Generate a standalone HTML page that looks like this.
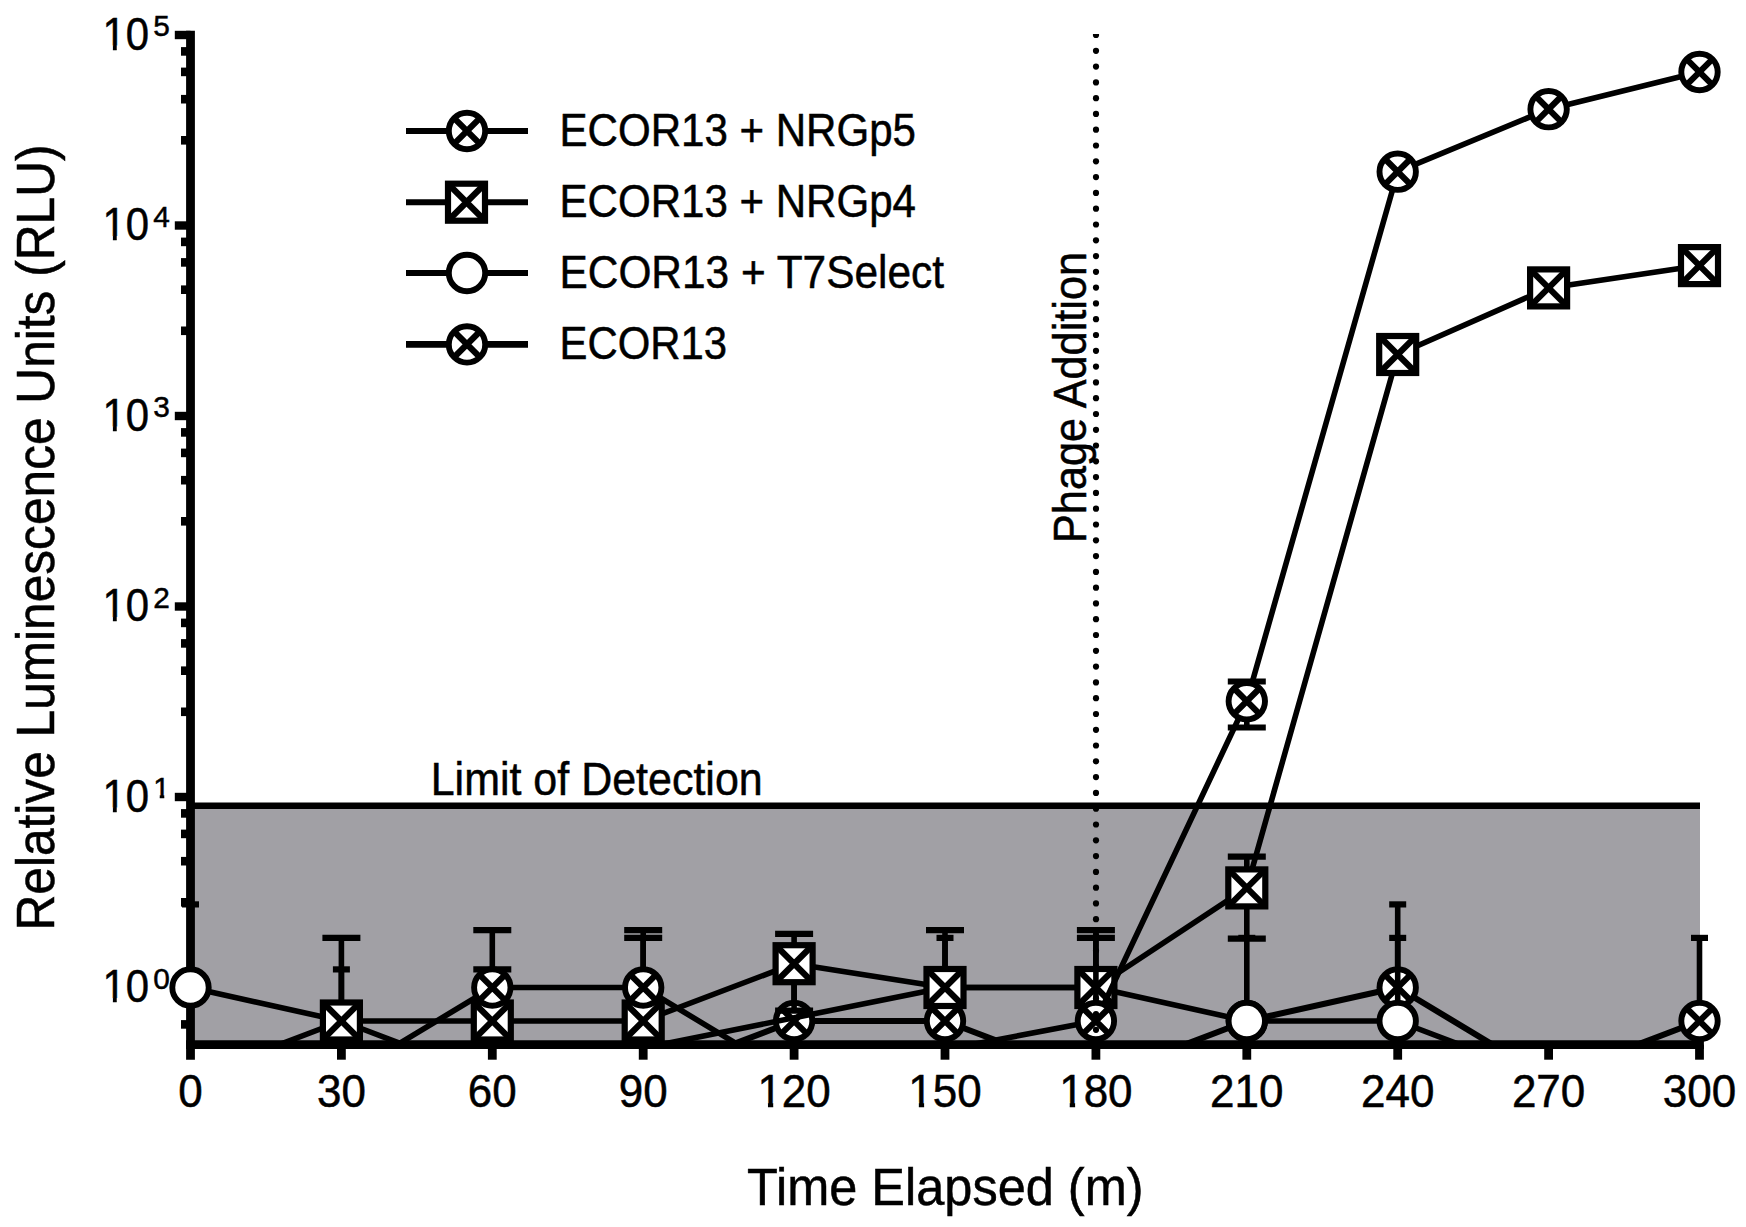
<!DOCTYPE html>
<html><head><meta charset="utf-8"><title>chart</title>
<style>html,body{margin:0;padding:0;background:#fff}svg{display:block}</style></head>
<body><svg width="1746" height="1227" viewBox="0 0 1746 1227">
<rect width="1746" height="1227" fill="#fff"/>
<rect x="190.5" y="805.5" width="1509.5" height="239.20000000000005" fill="#a1a0a5"/>
<line x1="190.5" y1="805.8" x2="1700" y2="805.8" stroke="#000" stroke-width="6.4"/>
<line x1="190.5" y1="30.8" x2="190.5" y2="1059.7" stroke="#000" stroke-width="8.8"/>
<line x1="186.1" y1="1044.7" x2="1703.9" y2="1044.7" stroke="#000" stroke-width="8.8"/>
<line x1="341.4" y1="1044.7" x2="341.4" y2="1059.7" stroke="#000" stroke-width="8.8"/>
<line x1="492.3" y1="1044.7" x2="492.3" y2="1059.7" stroke="#000" stroke-width="8.8"/>
<line x1="643.2" y1="1044.7" x2="643.2" y2="1059.7" stroke="#000" stroke-width="8.8"/>
<line x1="794.1" y1="1044.7" x2="794.1" y2="1059.7" stroke="#000" stroke-width="8.8"/>
<line x1="945.0" y1="1044.7" x2="945.0" y2="1059.7" stroke="#000" stroke-width="8.8"/>
<line x1="1095.9" y1="1044.7" x2="1095.9" y2="1059.7" stroke="#000" stroke-width="8.8"/>
<line x1="1246.8" y1="1044.7" x2="1246.8" y2="1059.7" stroke="#000" stroke-width="8.8"/>
<line x1="1397.7" y1="1044.7" x2="1397.7" y2="1059.7" stroke="#000" stroke-width="8.8"/>
<line x1="1548.6" y1="1044.7" x2="1548.6" y2="1059.7" stroke="#000" stroke-width="8.8"/>
<line x1="1699.5" y1="1044.7" x2="1699.5" y2="1059.7" stroke="#000" stroke-width="8.8"/>
<line x1="174.8" y1="987.5" x2="190.5" y2="987.5" stroke="#000" stroke-width="8.4"/>
<line x1="174.8" y1="797.0" x2="190.5" y2="797.0" stroke="#000" stroke-width="8.4"/>
<line x1="174.8" y1="606.5" x2="190.5" y2="606.5" stroke="#000" stroke-width="8.4"/>
<line x1="174.8" y1="416.0" x2="190.5" y2="416.0" stroke="#000" stroke-width="8.4"/>
<line x1="174.8" y1="225.5" x2="190.5" y2="225.5" stroke="#000" stroke-width="8.4"/>
<line x1="174.8" y1="35.0" x2="190.5" y2="35.0" stroke="#000" stroke-width="8.4"/>
<line x1="181" y1="1024.4" x2="190.5" y2="1024.4" stroke="#000" stroke-width="8.6"/>
<line x1="181" y1="902.3" x2="190.5" y2="902.3" stroke="#000" stroke-width="8.6"/>
<line x1="181" y1="861.2" x2="190.5" y2="861.2" stroke="#000" stroke-width="8.6"/>
<line x1="181" y1="833.9" x2="190.5" y2="833.9" stroke="#000" stroke-width="8.6"/>
<line x1="181" y1="813.4" x2="190.5" y2="813.4" stroke="#000" stroke-width="8.6"/>
<line x1="181" y1="711.8" x2="190.5" y2="711.8" stroke="#000" stroke-width="8.6"/>
<line x1="181" y1="670.7" x2="190.5" y2="670.7" stroke="#000" stroke-width="8.6"/>
<line x1="181" y1="643.4" x2="190.5" y2="643.4" stroke="#000" stroke-width="8.6"/>
<line x1="181" y1="622.9" x2="190.5" y2="622.9" stroke="#000" stroke-width="8.6"/>
<line x1="181" y1="521.3" x2="190.5" y2="521.3" stroke="#000" stroke-width="8.6"/>
<line x1="181" y1="480.2" x2="190.5" y2="480.2" stroke="#000" stroke-width="8.6"/>
<line x1="181" y1="452.9" x2="190.5" y2="452.9" stroke="#000" stroke-width="8.6"/>
<line x1="181" y1="432.4" x2="190.5" y2="432.4" stroke="#000" stroke-width="8.6"/>
<line x1="181" y1="330.8" x2="190.5" y2="330.8" stroke="#000" stroke-width="8.6"/>
<line x1="181" y1="289.7" x2="190.5" y2="289.7" stroke="#000" stroke-width="8.6"/>
<line x1="181" y1="262.4" x2="190.5" y2="262.4" stroke="#000" stroke-width="8.6"/>
<line x1="181" y1="241.9" x2="190.5" y2="241.9" stroke="#000" stroke-width="8.6"/>
<line x1="181" y1="140.3" x2="190.5" y2="140.3" stroke="#000" stroke-width="8.6"/>
<line x1="181" y1="99.2" x2="190.5" y2="99.2" stroke="#000" stroke-width="8.6"/>
<line x1="181" y1="71.9" x2="190.5" y2="71.9" stroke="#000" stroke-width="8.6"/>
<line x1="181" y1="51.4" x2="190.5" y2="51.4" stroke="#000" stroke-width="8.6"/>
<clipPath id="cy0"><path clip-rule="evenodd" d="M90 947.5h90v80h-90zM102 998.1h10.9v6h-10.9zM116.7 998.1h10v6h-10z"/></clipPath>
<text x="102.4" y="1002.2" font-family="Liberation Sans, Arial, Helvetica, sans-serif" stroke="#000" stroke-width="0.5" font-size="45.8" textLength="46.6" lengthAdjust="spacingAndGlyphs" clip-path="url(#cy0)">10</text>
<text x="153.3" y="988.7" font-family="Liberation Sans, Arial, Helvetica, sans-serif" stroke="#000" stroke-width="0.5" font-size="30.4" textLength="16.6" lengthAdjust="spacingAndGlyphs">0</text>
<clipPath id="cy1"><path clip-rule="evenodd" d="M90 757.0h90v80h-90zM102 807.6h10.9v6h-10.9zM116.7 807.6h10v6h-10z"/></clipPath>
<text x="102.4" y="811.7" font-family="Liberation Sans, Arial, Helvetica, sans-serif" stroke="#000" stroke-width="0.5" font-size="45.8" textLength="46.6" lengthAdjust="spacingAndGlyphs" clip-path="url(#cy1)">10</text>
<clipPath id="cs1"><path clip-rule="evenodd" d="M150 757.0h30v80h-30zM153 794.4h6.75v5h-6.75zM164.25 794.4h6v5h-6z"/></clipPath>
<text x="153.3" y="798.2" font-family="Liberation Sans, Arial, Helvetica, sans-serif" stroke="#000" stroke-width="0.5" font-size="30.4" textLength="16.6" lengthAdjust="spacingAndGlyphs" clip-path="url(#cs1)">1</text>
<clipPath id="cy2"><path clip-rule="evenodd" d="M90 566.5h90v80h-90zM102 617.1h10.9v6h-10.9zM116.7 617.1h10v6h-10z"/></clipPath>
<text x="102.4" y="621.2" font-family="Liberation Sans, Arial, Helvetica, sans-serif" stroke="#000" stroke-width="0.5" font-size="45.8" textLength="46.6" lengthAdjust="spacingAndGlyphs" clip-path="url(#cy2)">10</text>
<text x="153.3" y="607.7" font-family="Liberation Sans, Arial, Helvetica, sans-serif" stroke="#000" stroke-width="0.5" font-size="30.4" textLength="16.6" lengthAdjust="spacingAndGlyphs">2</text>
<clipPath id="cy3"><path clip-rule="evenodd" d="M90 376.0h90v80h-90zM102 426.6h10.9v6h-10.9zM116.7 426.6h10v6h-10z"/></clipPath>
<text x="102.4" y="430.7" font-family="Liberation Sans, Arial, Helvetica, sans-serif" stroke="#000" stroke-width="0.5" font-size="45.8" textLength="46.6" lengthAdjust="spacingAndGlyphs" clip-path="url(#cy3)">10</text>
<text x="153.3" y="417.2" font-family="Liberation Sans, Arial, Helvetica, sans-serif" stroke="#000" stroke-width="0.5" font-size="30.4" textLength="16.6" lengthAdjust="spacingAndGlyphs">3</text>
<clipPath id="cy4"><path clip-rule="evenodd" d="M90 185.5h90v80h-90zM102 236.1h10.9v6h-10.9zM116.7 236.1h10v6h-10z"/></clipPath>
<text x="102.4" y="240.2" font-family="Liberation Sans, Arial, Helvetica, sans-serif" stroke="#000" stroke-width="0.5" font-size="45.8" textLength="46.6" lengthAdjust="spacingAndGlyphs" clip-path="url(#cy4)">10</text>
<text x="153.3" y="226.7" font-family="Liberation Sans, Arial, Helvetica, sans-serif" stroke="#000" stroke-width="0.5" font-size="30.4" textLength="16.6" lengthAdjust="spacingAndGlyphs">4</text>
<clipPath id="cy5"><path clip-rule="evenodd" d="M90 -5.0h90v80h-90zM102 45.6h10.9v6h-10.9zM116.7 45.6h10v6h-10z"/></clipPath>
<text x="102.4" y="49.7" font-family="Liberation Sans, Arial, Helvetica, sans-serif" stroke="#000" stroke-width="0.5" font-size="45.8" textLength="46.6" lengthAdjust="spacingAndGlyphs" clip-path="url(#cy5)">10</text>
<text x="153.3" y="36.2" font-family="Liberation Sans, Arial, Helvetica, sans-serif" stroke="#000" stroke-width="0.5" font-size="30.4" textLength="16.6" lengthAdjust="spacingAndGlyphs">5</text>
<text x="190.5" y="1107" text-anchor="middle" font-family="Liberation Sans, Arial, Helvetica, sans-serif" stroke="#000" stroke-width="0.5" font-size="45.6" textLength="24.5" lengthAdjust="spacingAndGlyphs">0</text>
<text x="341.4" y="1107" text-anchor="middle" font-family="Liberation Sans, Arial, Helvetica, sans-serif" stroke="#000" stroke-width="0.5" font-size="45.6" textLength="48.9" lengthAdjust="spacingAndGlyphs">30</text>
<text x="492.3" y="1107" text-anchor="middle" font-family="Liberation Sans, Arial, Helvetica, sans-serif" stroke="#000" stroke-width="0.5" font-size="45.6" textLength="48.9" lengthAdjust="spacingAndGlyphs">60</text>
<text x="643.2" y="1107" text-anchor="middle" font-family="Liberation Sans, Arial, Helvetica, sans-serif" stroke="#000" stroke-width="0.5" font-size="45.6" textLength="48.9" lengthAdjust="spacingAndGlyphs">90</text>
<clipPath id="cx120"><path clip-rule="evenodd" d="M734.1 1060h120v60h-120zM758.1 1102.4h9.85v6h-9.85zM773.2 1102.4h8.6v6h-8.6z"/></clipPath>
<text x="794.1" y="1107" text-anchor="middle" font-family="Liberation Sans, Arial, Helvetica, sans-serif" stroke="#000" stroke-width="0.5" font-size="45.6" textLength="73.4" lengthAdjust="spacingAndGlyphs" clip-path="url(#cx120)">120</text>
<clipPath id="cx150"><path clip-rule="evenodd" d="M885.0 1060h120v60h-120zM909.0 1102.4h9.85v6h-9.85zM924.1 1102.4h8.6v6h-8.6z"/></clipPath>
<text x="945.0" y="1107" text-anchor="middle" font-family="Liberation Sans, Arial, Helvetica, sans-serif" stroke="#000" stroke-width="0.5" font-size="45.6" textLength="73.4" lengthAdjust="spacingAndGlyphs" clip-path="url(#cx150)">150</text>
<clipPath id="cx180"><path clip-rule="evenodd" d="M1035.9 1060h120v60h-120zM1059.9 1102.4h9.85v6h-9.85zM1075.1 1102.4h8.6v6h-8.6z"/></clipPath>
<text x="1095.9" y="1107" text-anchor="middle" font-family="Liberation Sans, Arial, Helvetica, sans-serif" stroke="#000" stroke-width="0.5" font-size="45.6" textLength="73.4" lengthAdjust="spacingAndGlyphs" clip-path="url(#cx180)">180</text>
<text x="1246.8" y="1107" text-anchor="middle" font-family="Liberation Sans, Arial, Helvetica, sans-serif" stroke="#000" stroke-width="0.5" font-size="45.6" textLength="73.4" lengthAdjust="spacingAndGlyphs">210</text>
<text x="1397.7" y="1107" text-anchor="middle" font-family="Liberation Sans, Arial, Helvetica, sans-serif" stroke="#000" stroke-width="0.5" font-size="45.6" textLength="73.4" lengthAdjust="spacingAndGlyphs">240</text>
<text x="1548.6" y="1107" text-anchor="middle" font-family="Liberation Sans, Arial, Helvetica, sans-serif" stroke="#000" stroke-width="0.5" font-size="45.6" textLength="73.4" lengthAdjust="spacingAndGlyphs">270</text>
<text x="1699.5" y="1107" text-anchor="middle" font-family="Liberation Sans, Arial, Helvetica, sans-serif" stroke="#000" stroke-width="0.5" font-size="45.6" textLength="73.4" lengthAdjust="spacingAndGlyphs">300</text>
<text x="747" y="1204.8" font-family="Liberation Sans, Arial, Helvetica, sans-serif" stroke="#000" stroke-width="0.5" font-size="52.4" textLength="396.5" lengthAdjust="spacingAndGlyphs">Time Elapsed (m)</text>
<text transform="translate(54.2,930.5) rotate(-90)" font-family="Liberation Sans, Arial, Helvetica, sans-serif" stroke="#000" stroke-width="0.5" font-size="53" textLength="786" lengthAdjust="spacingAndGlyphs">Relative Luminescence Units (RLU)</text>
<text x="430.7" y="795" font-family="Liberation Sans, Arial, Helvetica, sans-serif" stroke="#000" stroke-width="0.5" font-size="45.6" textLength="332" lengthAdjust="spacingAndGlyphs">Limit of Detection</text>
<text transform="translate(1086.1,543) rotate(-90)" font-family="Liberation Sans, Arial, Helvetica, sans-serif" stroke="#000" stroke-width="0.5" font-size="45.6" textLength="291" lengthAdjust="spacingAndGlyphs">Phage Addition</text>
<clipPath id="plotclip"><rect x="0" y="0" width="1746" height="1044.7"/></clipPath>
<line x1="794.1" y1="1021.0" x2="794.1" y2="969.4" stroke="#000" stroke-width="5.6"/>
<line x1="785.6" y1="969.4" x2="802.6" y2="969.4" stroke="#000" stroke-width="6.2"/>
<line x1="945.0" y1="1021.0" x2="945.0" y2="937.9" stroke="#000" stroke-width="5.6"/>
<line x1="936.5" y1="937.9" x2="953.5" y2="937.9" stroke="#000" stroke-width="6.2"/>
<line x1="1397.7" y1="987.5" x2="1397.7" y2="904.4" stroke="#000" stroke-width="5.6"/>
<line x1="1389.2" y1="904.4" x2="1406.2" y2="904.4" stroke="#000" stroke-width="6.2"/>
<line x1="1699.5" y1="1021.0" x2="1699.5" y2="937.9" stroke="#000" stroke-width="5.6"/>
<line x1="1691.0" y1="937.9" x2="1708.0" y2="937.9" stroke="#000" stroke-width="6.2"/>
<path d="M643.2 1078.4L794.1 1021.0L945.0 1021.0L1095.9 1078.4L1246.8 1021.0L1397.7 987.5L1548.6 1078.4L1699.5 1021.0" fill="none" stroke="#000" stroke-width="6.1" stroke-linejoin="round" clip-path="url(#plotclip)"/>
<circle cx="794.1" cy="1021.0" r="18.2" fill="#fff" stroke="#000" stroke-width="5.9"/><path d="M781.2 1008.2L807.0 1033.9M781.2 1033.9L807.0 1008.2" stroke="#000" stroke-width="6.2" fill="none"/>
<circle cx="945.0" cy="1021.0" r="18.2" fill="#fff" stroke="#000" stroke-width="5.9"/><path d="M932.1 1008.2L957.9 1033.9M932.1 1033.9L957.9 1008.2" stroke="#000" stroke-width="6.2" fill="none"/>
<circle cx="1246.8" cy="1021.0" r="18.2" fill="#fff" stroke="#000" stroke-width="5.9"/><path d="M1233.9 1008.2L1259.7 1033.9M1233.9 1033.9L1259.7 1008.2" stroke="#000" stroke-width="6.2" fill="none"/>
<circle cx="1397.7" cy="987.5" r="18.2" fill="#fff" stroke="#000" stroke-width="5.9"/><path d="M1384.8 974.6L1410.6 1000.4M1384.8 1000.4L1410.6 974.6" stroke="#000" stroke-width="6.2" fill="none"/>
<circle cx="1699.5" cy="1021.0" r="18.2" fill="#fff" stroke="#000" stroke-width="5.9"/><path d="M1686.6 1008.2L1712.4 1033.9M1686.6 1033.9L1712.4 1008.2" stroke="#000" stroke-width="6.2" fill="none"/>
<line x1="190.5" y1="987.5" x2="190.5" y2="904.4" stroke="#000" stroke-width="5.6"/>
<line x1="182.0" y1="904.4" x2="199.0" y2="904.4" stroke="#000" stroke-width="6.2"/>
<line x1="341.4" y1="1021.0" x2="341.4" y2="969.4" stroke="#000" stroke-width="5.6"/>
<line x1="332.9" y1="969.4" x2="349.9" y2="969.4" stroke="#000" stroke-width="6.2"/>
<line x1="1246.8" y1="1021.0" x2="1246.8" y2="937.9" stroke="#000" stroke-width="5.6"/>
<line x1="1238.3" y1="937.9" x2="1255.3" y2="937.9" stroke="#000" stroke-width="6.2"/>
<line x1="1397.7" y1="1021.0" x2="1397.7" y2="937.9" stroke="#000" stroke-width="5.6"/>
<line x1="1389.2" y1="937.9" x2="1406.2" y2="937.9" stroke="#000" stroke-width="6.2"/>
<path d="M190.5 987.5L341.4 1021.0L492.3 1078.4L945.0 987.5L1095.9 987.5L1246.8 1021.0L1397.7 1021.0L1548.6 1078.4" fill="none" stroke="#000" stroke-width="5.6" stroke-linejoin="round" clip-path="url(#plotclip)"/>
<circle cx="190.5" cy="987.5" r="18.2" fill="#fff" stroke="#000" stroke-width="5.9"/>
<circle cx="341.4" cy="1021.0" r="18.2" fill="#fff" stroke="#000" stroke-width="5.9"/>
<circle cx="945.0" cy="987.5" r="18.2" fill="#fff" stroke="#000" stroke-width="5.9"/>
<circle cx="1095.9" cy="987.5" r="18.2" fill="#fff" stroke="#000" stroke-width="5.9"/>
<circle cx="1246.8" cy="1021.0" r="18.2" fill="#fff" stroke="#000" stroke-width="5.9"/>
<circle cx="1397.7" cy="1021.0" r="18.2" fill="#fff" stroke="#000" stroke-width="5.9"/>
<line x1="341.4" y1="1021.0" x2="341.4" y2="937.9" stroke="#000" stroke-width="5.6"/>
<line x1="322.4" y1="937.9" x2="360.4" y2="937.9" stroke="#000" stroke-width="6.2"/>
<line x1="492.3" y1="1021.0" x2="492.3" y2="969.4" stroke="#000" stroke-width="5.6"/>
<line x1="473.3" y1="969.4" x2="511.3" y2="969.4" stroke="#000" stroke-width="6.2"/>
<line x1="643.2" y1="1021.0" x2="643.2" y2="937.9" stroke="#000" stroke-width="5.6"/>
<line x1="624.2" y1="937.9" x2="662.2" y2="937.9" stroke="#000" stroke-width="6.2"/>
<line x1="794.1" y1="963.7" x2="794.1" y2="933.9" stroke="#000" stroke-width="5.6"/>
<line x1="775.1" y1="933.9" x2="813.1" y2="933.9" stroke="#000" stroke-width="6.2"/>
<line x1="794.1" y1="963.7" x2="794.1" y2="1010.6" stroke="#000" stroke-width="5.6"/>
<line x1="775.1" y1="1010.6" x2="813.1" y2="1010.6" stroke="#000" stroke-width="6.2"/>
<line x1="945.0" y1="987.5" x2="945.0" y2="930.2" stroke="#000" stroke-width="5.6"/>
<line x1="926.0" y1="930.2" x2="964.0" y2="930.2" stroke="#000" stroke-width="6.2"/>
<line x1="1095.9" y1="987.5" x2="1095.9" y2="930.2" stroke="#000" stroke-width="5.6"/>
<line x1="1076.9" y1="930.2" x2="1114.9" y2="930.2" stroke="#000" stroke-width="6.2"/>
<line x1="1246.8" y1="887.9" x2="1246.8" y2="856.7" stroke="#000" stroke-width="5.6"/>
<line x1="1227.8" y1="856.7" x2="1265.8" y2="856.7" stroke="#000" stroke-width="6.2"/>
<line x1="1246.8" y1="887.9" x2="1246.8" y2="938.6" stroke="#000" stroke-width="5.6"/>
<line x1="1227.8" y1="938.6" x2="1265.8" y2="938.6" stroke="#000" stroke-width="6.2"/>
<path d="M190.5 1078.4L341.4 1021.0L492.3 1021.0L643.2 1021.0L794.1 963.7L945.0 987.5L1095.9 987.5L1246.8 887.9L1397.7 354.5L1548.6 287.9L1699.5 265.6" fill="none" stroke="#000" stroke-width="5.6" stroke-linejoin="round" clip-path="url(#plotclip)"/>
<rect x="322.9" y="1002.5" width="37.0" height="37.0" fill="#fff" stroke="#000" stroke-width="6.2"/><path d="M322.9 1002.5L359.9 1039.5M322.9 1039.5L359.9 1002.5" stroke="#000" stroke-width="6.2" fill="none"/>
<rect x="473.8" y="1002.5" width="37.0" height="37.0" fill="#fff" stroke="#000" stroke-width="6.2"/><path d="M473.8 1002.5L510.8 1039.5M473.8 1039.5L510.8 1002.5" stroke="#000" stroke-width="6.2" fill="none"/>
<rect x="624.7" y="1002.5" width="37.0" height="37.0" fill="#fff" stroke="#000" stroke-width="6.2"/><path d="M624.7 1002.5L661.7 1039.5M624.7 1039.5L661.7 1002.5" stroke="#000" stroke-width="6.2" fill="none"/>
<rect x="775.6" y="945.2" width="37.0" height="37.0" fill="#fff" stroke="#000" stroke-width="6.2"/><path d="M775.6 945.2L812.6 982.2M775.6 982.2L812.6 945.2" stroke="#000" stroke-width="6.2" fill="none"/>
<rect x="926.5" y="969.0" width="37.0" height="37.0" fill="#fff" stroke="#000" stroke-width="6.2"/><path d="M926.5 969.0L963.5 1006.0M926.5 1006.0L963.5 969.0" stroke="#000" stroke-width="6.2" fill="none"/>
<rect x="1077.4" y="969.0" width="37.0" height="37.0" fill="#fff" stroke="#000" stroke-width="6.2"/><path d="M1077.4 969.0L1114.4 1006.0M1077.4 1006.0L1114.4 969.0" stroke="#000" stroke-width="6.2" fill="none"/>
<rect x="1228.3" y="869.4" width="37.0" height="37.0" fill="#fff" stroke="#000" stroke-width="6.2"/><path d="M1228.3 869.4L1265.3 906.4M1228.3 906.4L1265.3 869.4" stroke="#000" stroke-width="6.2" fill="none"/>
<rect x="1379.2" y="336.0" width="37.0" height="37.0" fill="#fff" stroke="#000" stroke-width="6.2"/><path d="M1379.2 336.0L1416.2 373.0M1379.2 373.0L1416.2 336.0" stroke="#000" stroke-width="6.2" fill="none"/>
<rect x="1530.1" y="269.4" width="37.0" height="37.0" fill="#fff" stroke="#000" stroke-width="6.2"/><path d="M1530.1 269.4L1567.1 306.4M1530.1 306.4L1567.1 269.4" stroke="#000" stroke-width="6.2" fill="none"/>
<rect x="1681.0" y="247.1" width="37.0" height="37.0" fill="#fff" stroke="#000" stroke-width="6.2"/><path d="M1681.0 247.1L1718.0 284.1M1681.0 284.1L1718.0 247.1" stroke="#000" stroke-width="6.2" fill="none"/>
<line x1="492.3" y1="987.5" x2="492.3" y2="930.2" stroke="#000" stroke-width="5.6"/>
<line x1="473.3" y1="930.2" x2="511.3" y2="930.2" stroke="#000" stroke-width="6.2"/>
<line x1="643.2" y1="987.5" x2="643.2" y2="930.2" stroke="#000" stroke-width="5.6"/>
<line x1="624.2" y1="930.2" x2="662.2" y2="930.2" stroke="#000" stroke-width="6.2"/>
<line x1="1095.9" y1="1021.0" x2="1095.9" y2="937.9" stroke="#000" stroke-width="5.6"/>
<line x1="1076.9" y1="937.9" x2="1114.9" y2="937.9" stroke="#000" stroke-width="6.2"/>
<line x1="1246.8" y1="701.2" x2="1246.8" y2="681.5" stroke="#000" stroke-width="5.6"/>
<line x1="1227.8" y1="681.5" x2="1265.8" y2="681.5" stroke="#000" stroke-width="6.2"/>
<line x1="1246.8" y1="701.2" x2="1246.8" y2="727.5" stroke="#000" stroke-width="5.6"/>
<line x1="1227.8" y1="727.5" x2="1265.8" y2="727.5" stroke="#000" stroke-width="6.2"/>
<path d="M341.4 1078.4L492.3 987.5L643.2 987.5L794.1 1078.4L1095.9 1021.0L1246.8 701.2L1397.7 171.7L1548.6 109.2L1699.5 72.0" fill="none" stroke="#000" stroke-width="5.6" stroke-linejoin="round" clip-path="url(#plotclip)"/>
<circle cx="492.3" cy="987.5" r="18.2" fill="#fff" stroke="#000" stroke-width="5.9"/><path d="M479.4 974.6L505.2 1000.4M479.4 1000.4L505.2 974.6" stroke="#000" stroke-width="6.2" fill="none"/>
<circle cx="643.2" cy="987.5" r="18.2" fill="#fff" stroke="#000" stroke-width="5.9"/><path d="M630.3 974.6L656.1 1000.4M630.3 1000.4L656.1 974.6" stroke="#000" stroke-width="6.2" fill="none"/>
<circle cx="1095.9" cy="1021.0" r="18.2" fill="#fff" stroke="#000" stroke-width="5.9"/><path d="M1083.0 1008.2L1108.8 1033.9M1083.0 1033.9L1108.8 1008.2" stroke="#000" stroke-width="6.2" fill="none"/>
<circle cx="1246.8" cy="701.2" r="18.2" fill="#fff" stroke="#000" stroke-width="5.9"/><path d="M1233.9 688.3L1259.7 714.1M1233.9 714.1L1259.7 688.3" stroke="#000" stroke-width="6.2" fill="none"/>
<circle cx="1397.7" cy="171.7" r="18.2" fill="#fff" stroke="#000" stroke-width="5.9"/><path d="M1384.8 158.8L1410.6 184.6M1384.8 184.6L1410.6 158.8" stroke="#000" stroke-width="6.2" fill="none"/>
<circle cx="1548.6" cy="109.2" r="18.2" fill="#fff" stroke="#000" stroke-width="5.9"/><path d="M1535.7 96.3L1561.5 122.1M1535.7 122.1L1561.5 96.3" stroke="#000" stroke-width="6.2" fill="none"/>
<circle cx="1699.5" cy="72.0" r="18.2" fill="#fff" stroke="#000" stroke-width="5.9"/><path d="M1686.6 59.1L1712.4 84.9M1686.6 84.9L1712.4 59.1" stroke="#000" stroke-width="6.2" fill="none"/>
<clipPath id="dotclip"><rect x="1000" y="33.9" width="200" height="1100"/></clipPath>
<g fill="#000" clip-path="url(#dotclip)"><circle cx="1096.0" cy="35.0" r="3.1"/><circle cx="1096.0" cy="50.8" r="3.1"/><circle cx="1096.0" cy="66.6" r="3.1"/><circle cx="1096.0" cy="82.4" r="3.1"/><circle cx="1096.0" cy="98.2" r="3.1"/><circle cx="1096.0" cy="113.9" r="3.1"/><circle cx="1096.0" cy="129.7" r="3.1"/><circle cx="1096.0" cy="145.5" r="3.1"/><circle cx="1096.0" cy="161.3" r="3.1"/><circle cx="1096.0" cy="177.1" r="3.1"/><circle cx="1096.0" cy="192.9" r="3.1"/><circle cx="1096.0" cy="208.7" r="3.1"/><circle cx="1096.0" cy="224.5" r="3.1"/><circle cx="1096.0" cy="240.3" r="3.1"/><circle cx="1096.0" cy="256.1" r="3.1"/><circle cx="1096.0" cy="271.8" r="3.1"/><circle cx="1096.0" cy="287.6" r="3.1"/><circle cx="1096.0" cy="303.4" r="3.1"/><circle cx="1096.0" cy="319.2" r="3.1"/><circle cx="1096.0" cy="335.0" r="3.1"/><circle cx="1096.0" cy="350.8" r="3.1"/><circle cx="1096.0" cy="366.6" r="3.1"/><circle cx="1096.0" cy="382.4" r="3.1"/><circle cx="1096.0" cy="398.2" r="3.1"/><circle cx="1096.0" cy="414.0" r="3.1"/><circle cx="1096.0" cy="429.8" r="3.1"/><circle cx="1096.0" cy="445.5" r="3.1"/><circle cx="1096.0" cy="461.3" r="3.1"/><circle cx="1096.0" cy="477.1" r="3.1"/><circle cx="1096.0" cy="492.9" r="3.1"/><circle cx="1096.0" cy="508.7" r="3.1"/><circle cx="1096.0" cy="524.5" r="3.1"/><circle cx="1096.0" cy="540.3" r="3.1"/><circle cx="1096.0" cy="556.1" r="3.1"/><circle cx="1096.0" cy="571.9" r="3.1"/><circle cx="1096.0" cy="587.7" r="3.1"/><circle cx="1096.0" cy="603.4" r="3.1"/><circle cx="1096.0" cy="619.2" r="3.1"/><circle cx="1096.0" cy="635.0" r="3.1"/><circle cx="1096.0" cy="650.8" r="3.1"/><circle cx="1096.0" cy="666.6" r="3.1"/><circle cx="1096.0" cy="682.4" r="3.1"/><circle cx="1096.0" cy="698.2" r="3.1"/><circle cx="1096.0" cy="714.0" r="3.1"/><circle cx="1096.0" cy="729.8" r="3.1"/><circle cx="1096.0" cy="745.5" r="3.1"/><circle cx="1096.0" cy="761.3" r="3.1"/><circle cx="1096.0" cy="777.1" r="3.1"/><circle cx="1096.0" cy="792.9" r="3.1"/><circle cx="1096.0" cy="808.7" r="3.1"/><circle cx="1096.0" cy="824.5" r="3.1"/><circle cx="1096.0" cy="840.3" r="3.1"/><circle cx="1096.0" cy="856.1" r="3.1"/><circle cx="1096.0" cy="871.9" r="3.1"/><circle cx="1096.0" cy="887.7" r="3.1"/><circle cx="1096.0" cy="903.4" r="3.1"/><circle cx="1096.0" cy="919.2" r="3.1"/><circle cx="1096.0" cy="935.0" r="3.1"/><circle cx="1096.0" cy="950.8" r="3.1"/><circle cx="1096.0" cy="966.6" r="3.1"/><circle cx="1096.0" cy="982.4" r="3.1"/><circle cx="1096.0" cy="998.2" r="3.1"/><circle cx="1096.0" cy="1014.0" r="3.1"/><circle cx="1096.0" cy="1029.8" r="3.1"/></g>
<line x1="406" y1="131" x2="528" y2="131" stroke="#000" stroke-width="6"/>
<circle cx="467.0" cy="131.0" r="18.2" fill="#fff" stroke="#000" stroke-width="5.9"/><path d="M454.1 118.1L479.9 143.9M454.1 143.9L479.9 118.1" stroke="#000" stroke-width="6.2" fill="none"/>
<text x="559.5" y="145.8" font-family="Liberation Sans, Arial, Helvetica, sans-serif" stroke="#000" stroke-width="0.5" font-size="46.2" textLength="356.5" lengthAdjust="spacingAndGlyphs">ECOR13 + NRGp5</text>
<line x1="406" y1="202.2" x2="528" y2="202.2" stroke="#000" stroke-width="6"/>
<rect x="448.0" y="183.7" width="37.0" height="37.0" fill="#fff" stroke="#000" stroke-width="6.2"/><path d="M448.0 183.7L485.0 220.7M448.0 220.7L485.0 183.7" stroke="#000" stroke-width="6.2" fill="none"/>
<text x="559.5" y="217.0" font-family="Liberation Sans, Arial, Helvetica, sans-serif" stroke="#000" stroke-width="0.5" font-size="46.2" textLength="356.5" lengthAdjust="spacingAndGlyphs">ECOR13 + NRGp4</text>
<line x1="406" y1="273" x2="528" y2="273" stroke="#000" stroke-width="6"/>
<circle cx="467.0" cy="273.0" r="18.2" fill="#fff" stroke="#000" stroke-width="5.9"/>
<text x="559.5" y="287.8" font-family="Liberation Sans, Arial, Helvetica, sans-serif" stroke="#000" stroke-width="0.5" font-size="46.2" textLength="384.5" lengthAdjust="spacingAndGlyphs">ECOR13 + T7Select</text>
<line x1="406" y1="344.4" x2="528" y2="344.4" stroke="#000" stroke-width="6.9"/>
<circle cx="467.0" cy="344.4" r="18.2" fill="#fff" stroke="#000" stroke-width="5.9"/><path d="M454.1 331.5L479.9 357.3M454.1 357.3L479.9 331.5" stroke="#000" stroke-width="6.2" fill="none"/>
<text x="559.5" y="359.2" font-family="Liberation Sans, Arial, Helvetica, sans-serif" stroke="#000" stroke-width="0.5" font-size="46.2" textLength="167.5" lengthAdjust="spacingAndGlyphs">ECOR13</text>
</svg></body></html>
